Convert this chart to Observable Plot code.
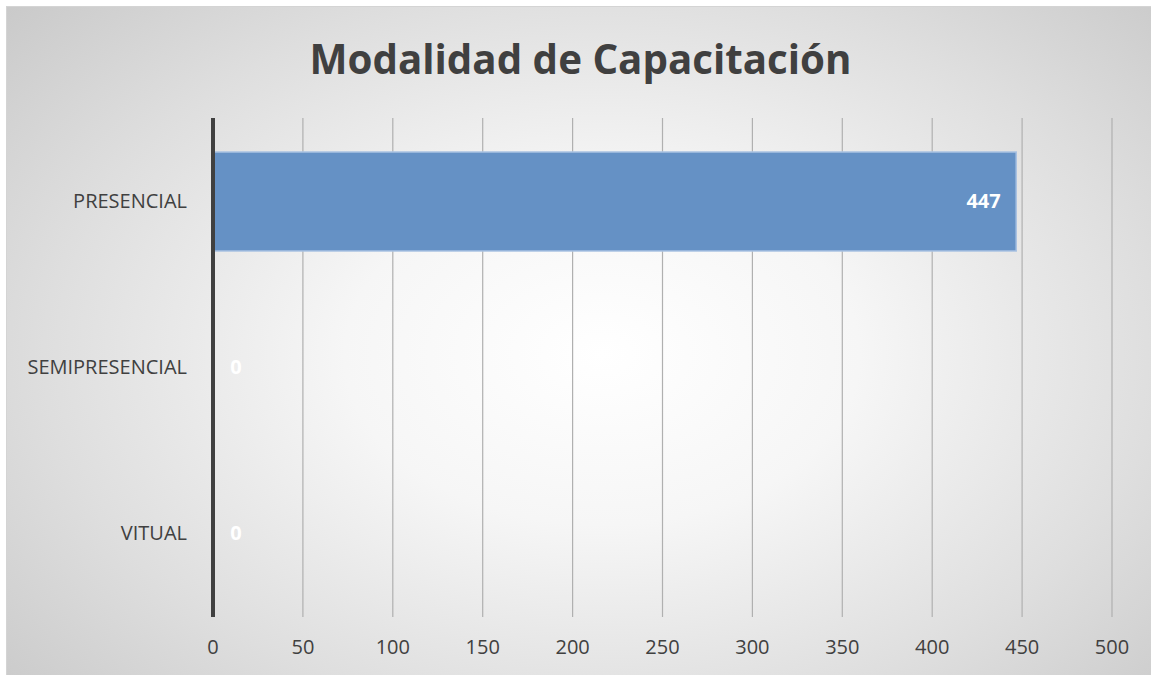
<!DOCTYPE html>
<html>
<head>
<meta charset="utf-8">
<script src="https://cdn.jsdelivr.net/npm/d3@7"></script>
<script src="https://cdn.jsdelivr.net/npm/@observablehq/plot@0.6"></script>
<style>
  html, body { margin: 0; padding: 0; background: #ffffff; }
  #wrap { position: relative; width: 1151px; height: 675px; overflow: hidden; }
  #frame {
    position: absolute; left: 6px; top: 6px; width: 1145px; height: 669px;
    box-sizing: border-box; border-top: 1px solid #d4d4d4; border-left: 1px solid #d4d4d4;
    background: radial-gradient(ellipse 75% 85% at 52% 52%, #ffffff 0%, #f6f6f6 30%, #dedede 65%, #c4c4c4 100%);
  }
  #title {
    position: absolute; left: 5px; top: 0; width: 1151px; height: 100px;
    display: flex; align-items: center; justify-content: center;
    font-family: "Open Sans", sans-serif; font-weight: 700; font-size: 40.3px; color: #404040;
    padding-top: 16px; box-sizing: border-box;
  }
  #chart { position: absolute; left: 0; top: 100px; }
  #chart svg { background: transparent; overflow: visible; }
</style>
</head>
<body>
<div id="wrap">
  <div id="frame"></div>
  <div id="title">Modalidad de Capacitación</div>
  <div id="chart"></div>
</div>
<script>
const categories = ["PRESENCIAL", "SEMIPRESENCIAL", "VITUAL"];
const values = [447, 0, 0];
const xTicks = [0, 50, 100, 150, 200, 250, 300, 350, 400, 450, 500];

const data = categories.map((c, i) => ({category: c, value: values[i]}));

const plot = Plot.plot({
  width: 1151,
  height: 575,
  marginTop: 18,
  marginBottom: 58,
  marginLeft: 212.5,
  marginRight: 39.5,
  style: {background: "transparent", fontFamily: "Open Sans, sans-serif", color: "#404040"},
  x: {domain: [0, 500], ticks: xTicks, label: null},
  y: {domain: categories, paddingInner: 0.403, paddingOuter: 0.2015, label: null},
  marks: [
    Plot.gridX(xTicks, {stroke: "#b0b0b0", strokeOpacity: 1, strokeWidth: 1.2}),
    Plot.axisX(xTicks, {tickSize: 0, tickPadding: 22, fontSize: 20, fill: "#404040", label: null}),
    Plot.axisY({tickSize: 0, tickPadding: 26, fontSize: 20, fill: "#404040", label: null}),
    Plot.barX(data, {x: "value", y: "category", fill: "#6591c5", stroke: "#a9c2e2", strokeWidth: 1.5}),
    Plot.ruleX([0], {stroke: "#404040", strokeWidth: 4}),
    Plot.text(data.filter(d => d.value > 0), {x: "value", y: "category", text: d => String(d.value), textAnchor: "end", dx: -16, fill: "white", fontWeight: 700, fontSize: 20}),
    Plot.text(data.filter(d => d.value === 0), {x: "value", y: "category", text: d => String(d.value), textAnchor: "middle", dx: 23, fill: "white", fontWeight: 700, fontSize: 20})
  ]
});
document.getElementById("chart").appendChild(plot);
</script>
</body>
</html>
